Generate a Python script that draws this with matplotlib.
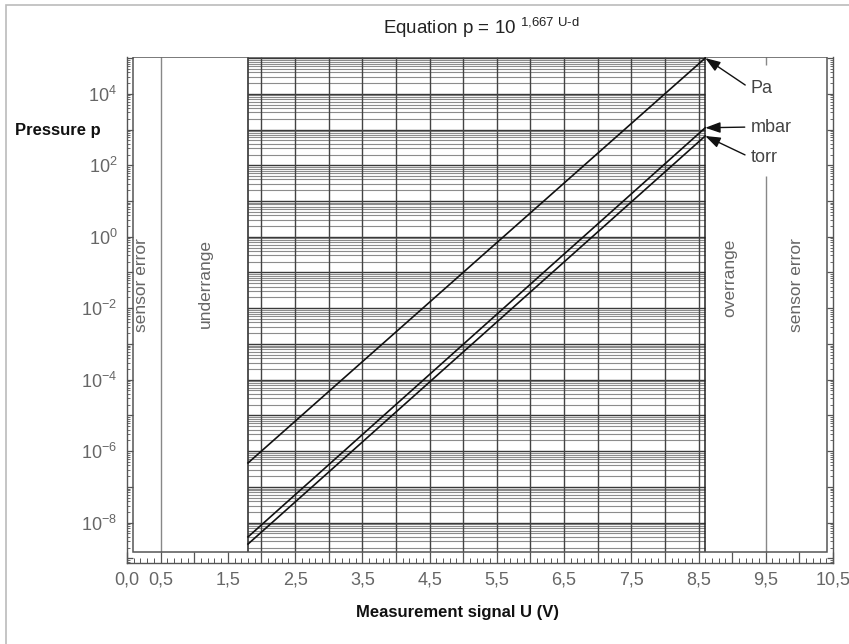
import numpy as np
import matplotlib
matplotlib.use('Agg')
import matplotlib.pyplot as plt
from matplotlib.patches import Rectangle
from matplotlib.ticker import MultipleLocator, FuncFormatter, LogLocator, NullFormatter

plt.rcParams['font.family'] = ['Liberation Sans', 'DejaVu Sans']
plt.rcParams['mathtext.fontset'] = 'custom'
plt.rcParams['mathtext.rm'] = 'Liberation Sans'

# line end points: U (V) and log10(p)
units = ['Pa', 'mbar', 'torr']
u_start = [1.8, 1.8, 1.8]
u_end = [8.6, 8.6, 8.6]
logp_start = [-6.33, -8.40, -8.60]
logp_end = [5.0, 3.05, 2.82]

# label positions (U, log10 p)
label_u = [9.27, 9.27, 9.27]
label_logp = [4.15, 3.07, 2.22]

# regions
measure_lo, measure_hi = 1.8, 8.6
box_lo_u, box_hi_u = 0.09, 10.41
box_lo_logp, box_hi_logp = -8.82, 5.03
region_lines = [0.5, 9.5]
region_texts = ['sensor error', 'underrange', 'overrange', 'sensor error']
region_text_u = [0.22, 1.16, 8.97, 9.95]

fig = plt.figure(figsize=(8.49, 6.44), dpi=100)
ax = fig.add_axes([127 / 849, 1 - 563 / 644, 706 / 849, 506 / 644])
ax.set_yscale('log')
ax.set_xlim(0, 10.5)
ax.set_ylim(10 ** -9.13, 10 ** 5.03)

edge = '#555555'
for s in ['left', 'right', 'bottom']:
    ax.spines[s].set_color(edge)
    ax.spines[s].set_linewidth(1.0)
ax.spines['top'].set_visible(False)

# x ticks: ruler style
ax.xaxis.set_major_locator(MultipleLocator(0.5))
ax.xaxis.set_minor_locator(MultipleLocator(0.1))
def xfmt(v, pos):
    if abs(v) < 1e-6 or abs(v % 1 - 0.5) < 1e-6:
        return f'{v:.1f}'.replace('.', ',')
    return ''
ax.xaxis.set_major_formatter(FuncFormatter(xfmt))

ax.yaxis.set_major_locator(LogLocator(base=10, numticks=30))
ax.yaxis.set_minor_locator(LogLocator(base=10, subs=np.arange(2, 10), numticks=30))
def yfmt(v, pos):
    e = int(round(np.log10(v)))
    if e % 2 == 0:
        return r'$\mathregular{10^{%d}}$' % e
    return ''
ax.yaxis.set_major_formatter(FuncFormatter(yfmt))
ax.yaxis.set_minor_formatter(NullFormatter())

ax.tick_params(axis='x', which='major', direction='in', length=8, width=0.9,
               color=edge, labelsize=13, labelcolor='#666666', pad=6)
ax.tick_params(axis='x', which='minor', direction='in', length=3.5, width=0.7, color=edge)
ax.tick_params(axis='y', which='major', direction='in', length=4.5, width=0.9,
               color=edge, labelsize=13, labelcolor='#666666', pad=7, right=True)
ax.tick_params(axis='y', which='minor', direction='in', length=2.5, width=0.6,
               color=edge, right=True)

# grid inside measuring range
grid_vals = []
for k in range(-9, 6):
    for m in range(1, 10):
        v = m * 10.0 ** k
        if 10 ** box_lo_logp < v < 10 ** box_hi_logp:
            grid_vals.append((v, m))
for v, m in grid_vals:
    ax.hlines(v, measure_lo, measure_hi, color='#3a3a3a' if m == 1 else '#8c8c8c',
              lw=1.0 if m == 1 else 0.8, zorder=1)
vgrid = np.arange(2.0, 8.51, 0.5)
ax.vlines(vgrid, 10 ** box_lo_logp, 10 ** box_hi_logp, color='#444444', lw=1.0, zorder=1)
ax.vlines([measure_lo, measure_hi], 10 ** box_lo_logp, 10 ** box_hi_logp,
          color='#222222', lw=1.1, zorder=2)

# region separators
ax.vlines(region_lines[0], 10 ** box_lo_logp, 10 ** box_hi_logp, color='#888888', lw=1.0, zorder=2)
ax.vlines(region_lines[1], 10 ** box_lo_logp, 10 ** 1.69, color='#888888', lw=1.0, zorder=2)
ax.vlines(region_lines[1], 10 ** 4.82, 10 ** box_hi_logp, color='#888888', lw=1.0, zorder=2)

ax.add_patch(Rectangle((box_lo_u, 10 ** box_lo_logp), box_hi_u - box_lo_u,
                       10 ** box_hi_logp - 10 ** box_lo_logp, fill=False,
                       edgecolor=edge, lw=1.1, zorder=3))

for txt, u in zip(region_texts, region_text_u):
    ax.text(u, 10 ** -0.05, txt, rotation=90, ha='center', va='top', fontsize=12.5,
            color='#666666', zorder=4)

# pressure lines
for name, u0, u1, p0, p1, lu, lp in zip(units, u_start, u_end, logp_start, logp_end,
                                        label_u, label_logp):
    ax.plot([u0, u1], [10 ** p0, 10 ** p1], color='#111111', lw=1.2, zorder=5)
    ax.annotate(name, xy=(u1, 10 ** p1), xytext=(lu, 10 ** lp), fontsize=13,
                color='#444444', ha='left', va='center',
                arrowprops=dict(arrowstyle='-|>,head_length=0.7,head_width=0.25',
                                color='#111111', lw=1.0, shrinkA=2, shrinkB=0,
                                relpos=(0, 0.5)), zorder=6)

fig.text(481 / 849, 1 - 28 / 644,
         r'Equation p = 10 $^{\mathregular{1{,}667\ U\text{-}d}}$',
         ha='center', va='center', fontsize=13.5, color='#222222')
fig.text(15 / 849, 1 - 130 / 644, 'Pressure p', ha='left', va='center',
         fontsize=12, fontweight='bold', color='#111111')
fig.text(457 / 849, 1 - 612 / 644, 'Measurement signal U (V)', ha='center', va='center',
         fontsize=12, fontweight='bold', color='#111111')

fig.add_artist(Rectangle((6 / 849, -0.05), 1.1, 1 - 5 / 644 + 0.05, transform=fig.transFigure,
                         fill=False, edgecolor='#bbbbbb', lw=1.2))

fig.savefig('out.png', dpi=100)
